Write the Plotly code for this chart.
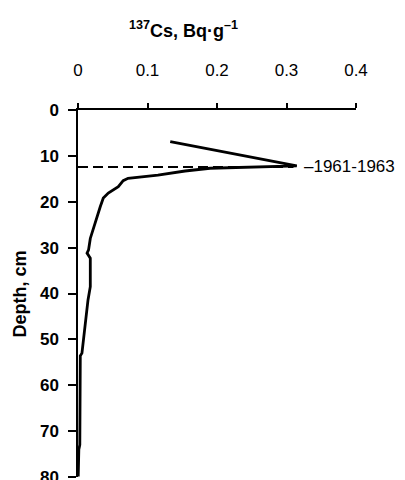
import plotly.graph_objects as go

# 137Cs activity (Bq/g) vs depth (cm)
cs137 = [0.1327, 0.3148, 0.190, 0.154, 0.115, 0.072, 0.065, 0.058, 0.0436, 0.0364,
         0.032, 0.025, 0.0177, 0.0152, 0.013, 0.0177, 0.0177, 0.0144, 0.0105, 0.008,
         0.0057, 0.0033, 0.0026, 0.0012, 0.0003]
depth = [6.9, 12.2, 12.7, 13.3, 14.2, 14.9, 15.4, 16.7, 18.1, 19.2,
         21.1, 24.7, 28.0, 30.5, 31.2, 32.3, 38.5, 41.4, 46.5, 49.4,
         53.0, 53.6, 73.0, 74.0, 79.9]

marker_x = [0, 0.31]
marker_depth = [12.4, 12.4]
marker_label = "–1961-1963"

x_ticks = [0, 0.1, 0.2, 0.3, 0.4]
x_ticktext = ["0", "0.1", "0.2", "0.3", "0.4"]
y_ticks = [0, 10, 20, 30, 40, 50, 60, 70, 80]

FONT = "Arial, Liberation Sans, sans-serif"

fig = go.Figure()
fig.add_trace(go.Scatter(x=marker_x, y=marker_depth, mode="lines",
                         line=dict(color="black", width=2, dash="10px,5px"),
                         showlegend=False, hoverinfo="skip"))
fig.add_trace(go.Scatter(x=cs137, y=depth, mode="lines",
                         line=dict(color="black", width=2.8),
                         showlegend=False))

fig.add_annotation(x=0.322, y=marker_depth[0], xref="x", yref="y", text=marker_label,
                   showarrow=False, xanchor="left", yanchor="middle",
                   font=dict(family=FONT, size=17, color="black"))

fig.add_annotation(x=0.381, y=1.22, xref="paper", yref="paper",
                   text="<b><sup>137</sup>Cs, Bq·g<sup>–1</sup></b>",
                   showarrow=False, xanchor="center", yanchor="middle",
                   font=dict(family=FONT, size=18, color="black"))

fig.add_annotation(x=-0.209, y=0.5, xref="paper", yref="paper",
                   text="<b>Depth, cm</b>", textangle=-90,
                   showarrow=False, xanchor="center", yanchor="middle",
                   font=dict(family=FONT, size=18, color="black"))

fig.update_layout(
    width=405, height=480,
    margin=dict(l=78, r=49, t=110, b=3),
    plot_bgcolor="white", paper_bgcolor="white",
    font=dict(family=FONT, color="black"),
    xaxis=dict(side="top", range=[0, 0.4], tickvals=x_ticks, ticktext=x_ticktext,
               ticks="outside", ticklen=5, tickwidth=1.5, tickcolor="black",
               showline=True, linecolor="black", linewidth=1.5,
               showgrid=False, zeroline=False, ticklabelstandoff=20,
               automargin=False,
               tickfont=dict(family=FONT, size=17, color="black")),
    yaxis=dict(range=[80, 0], tickvals=y_ticks, ticktext=[f"<b>{v}</b>" for v in y_ticks],
               ticks="outside", ticklen=8, tickwidth=1.5, tickcolor="black",
               showline=True, linecolor="black", linewidth=1.5,
               showgrid=False, zeroline=False, ticklabelstandoff=6,
               ticklabeloverflow="allow", automargin=False,
               tickfont=dict(family=FONT, size=17, color="black")),
)

fig.write_html(
    "out.html",
    config={"displayModeBar": False},
    post_script=(
        "var de=document.documentElement, b=document.body;"
        "de.style.margin='0'; de.style.padding='0'; de.style.overflow='hidden';"
        "b.style.margin='0'; b.style.padding='0'; b.style.overflow='hidden';"
    ),
)
